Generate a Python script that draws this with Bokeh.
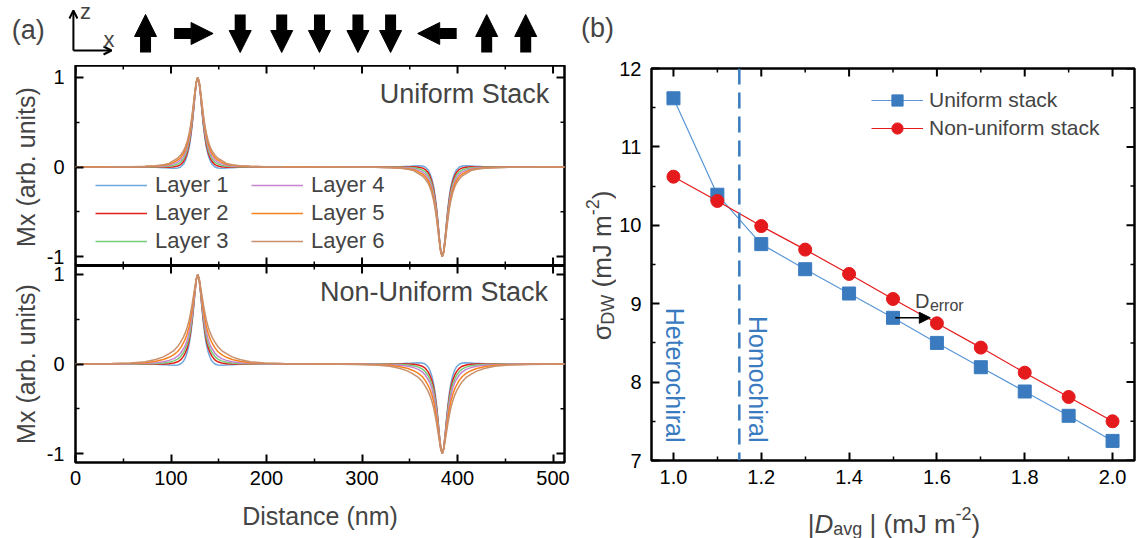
import math
from bokeh.plotting import figure
from bokeh.models import (Range1d, FixedTicker, Legend, LegendItem, Label,
                          Arrow, NormalHead, OpenHead, Span, ColumnDataSource,
                          PrintfTickFormatter)
from bokeh.layouts import row, column
from bokeh.embed import file_html
from bokeh.resources import INLINE

FONT = "Liberation Sans"

# ---------------- panel (a) data ----------------
wall_centers_nm = [128, 384]
wall_signs = [1, -1]
wall_offset_nm = [0, 1.5, 3, 4.5, 6, 7.5, 9, 11, 13, 15, 18, 21, 25, 30, 36, 44, 55, 70, 90, 128]

uniform_L1 = [1.00, 0.94, 0.79, 0.61, 0.45, 0.32, 0.22, 0.13, 0.07, 0.03, 0.00, -0.012, -0.015, -0.012, -0.007, -0.003, -0.001, 0, 0, 0]
uniform_L2 = [1.00, 0.943, 0.80, 0.63, 0.475, 0.35, 0.25, 0.16, 0.10, 0.06, 0.026, 0.01, 0.003, -0.002, -0.001, 0, 0, 0, 0, 0]
uniform_L3 = [1.00, 0.946, 0.81, 0.65, 0.50, 0.38, 0.283, 0.193, 0.132, 0.09, 0.052, 0.033, 0.02, 0.009, 0.006, 0.004, 0.003, 0.002, 0.001, 0]
uniform_L4 = [1.00, 0.95, 0.823, 0.67, 0.526, 0.408, 0.314, 0.225, 0.163, 0.119, 0.079, 0.055, 0.038, 0.019, 0.012, 0.008, 0.005, 0.002, 0.001, 0]
uniform_L5 = [1.00, 0.953, 0.834, 0.688, 0.551, 0.437, 0.346, 0.256, 0.194, 0.149, 0.105, 0.078, 0.055, 0.030, 0.019, 0.011, 0.006, 0.003, 0.002, 0]
uniform_L6 = [1.00, 0.956, 0.845, 0.708, 0.576, 0.466, 0.377, 0.288, 0.225, 0.179, 0.131, 0.10, 0.073, 0.04, 0.025, 0.015, 0.008, 0.004, 0.002, 0]

nonuni_L1 = [1.00, 0.94, 0.79, 0.61, 0.45, 0.32, 0.22, 0.13, 0.07, 0.03, 0.00, -0.012, -0.015, -0.012, -0.007, -0.003, -0.001, 0, 0, 0]
nonuni_L2 = [1.00, 0.94, 0.80, 0.63, 0.48, 0.36, 0.265, 0.18, 0.125, 0.085, 0.045, 0.025, 0.012, 0.004, 0.001, 0, 0, 0, 0, 0]
nonuni_L3 = [1.00, 0.945, 0.81, 0.65, 0.51, 0.395, 0.305, 0.225, 0.17, 0.125, 0.083, 0.055, 0.035, 0.02, 0.011, 0.006, 0.003, 0.001, 0, 0]
nonuni_L4 = [1.00, 0.95, 0.82, 0.68, 0.55, 0.44, 0.355, 0.27, 0.21, 0.17, 0.12, 0.088, 0.06, 0.04, 0.025, 0.014, 0.007, 0.003, 0.001, 0]
nonuni_L5 = [1.00, 0.95, 0.84, 0.72, 0.60, 0.50, 0.42, 0.34, 0.28, 0.235, 0.18, 0.14, 0.105, 0.075, 0.05, 0.03, 0.015, 0.007, 0.003, 0]
nonuni_L6 = [1.00, 0.955, 0.86, 0.76, 0.66, 0.57, 0.49, 0.41, 0.35, 0.30, 0.245, 0.195, 0.15, 0.115, 0.08, 0.05, 0.025, 0.012, 0.005, 0]

layer_names = ["Layer 1", "Layer 2", "Layer 3", "Layer 4", "Layer 5", "Layer 6"]
layer_colors = ["#6fa8dc", "#e0201c", "#77cc77", "#c584d0", "#f5821f", "#c8906c"]

a_x_ticks = [0, 100, 200, 300, 400, 500]
a_x_minor = [50, 150, 250, 350, 450]
a_y_ticks = [-1, 0, 1]
a_y_minor = [-0.5, 0.5]
a_y_labels = ["-1", "0", "1"]

spin_x_nm = [76, 126, 174.5, 217.7, 257, 297, 331, 379.5, 431, 471.6]
spin_dir = ["up", "right", "down", "down", "down", "down", "down", "left", "up", "up"]

# ---------------- panel (b) data ----------------
d_avg = [1.0, 1.1, 1.2, 1.3, 1.4, 1.5, 1.6, 1.7, 1.8, 1.9, 2.0]
sigma_uniform = [11.62, 10.39, 9.76, 9.44, 9.13, 8.82, 8.50, 8.19, 7.88, 7.57, 7.25]
sigma_nonuniform = [10.62, 10.31, 9.99, 9.69, 9.38, 9.06, 8.75, 8.44, 8.12, 7.81, 7.50]
boundary_d = 1.15
b_x_ticks = [1.0, 1.2, 1.4, 1.6, 1.8, 2.0]
b_x_minor = [1.1, 1.3, 1.5, 1.7, 1.9]
b_y_ticks = [7, 8, 9, 10, 11, 12]
b_y_minor = [7.5, 8.5, 9.5, 10.5, 11.5]

BLUE = "#3a7bbf"
BLUE_LINE = "#5a97d6"
RED = "#e41a1c"

# ---------------- helpers ----------------
def full_profile(half):
    xs, ys = [], []
    for c, s in zip(wall_centers_nm, wall_signs):
        for d, v in zip(reversed(wall_offset_nm), reversed(half)):
            xs.append(c - d)
            ys.append(s * v)
        for d, v in zip(wall_offset_nm[1:], half[1:]):
            xs.append(c + d)
            ys.append(s * v)
    return xs, ys


def style_axis(ax, ticker, size="20px", standoff=8):
    ax.ticker = ticker
    ax.axis_line_color = None
    ax.major_tick_in = 8
    ax.major_tick_out = 0
    ax.minor_tick_in = 4
    ax.minor_tick_out = 0
    ax.major_tick_line_width = 2
    ax.minor_tick_line_width = 1.5
    ax.major_tick_line_color = "black"
    ax.minor_tick_line_color = "black"
    ax.major_label_text_font = FONT
    ax.major_label_text_color = "black"
    ax.major_label_text_font_size = size
    ax.major_label_standoff = standoff


def hticks(p, xs, yv, size, lw):
    # vertical tick marks on a horizontal edge; the frame clips the outer half
    p.scatter(xs, [yv] * len(xs), marker="dash", angle=math.pi / 2, size=size,
              line_width=lw, line_color="black")


def vticks(p, ys, xv, size, lw):
    p.scatter([xv] * len(ys), ys, marker="dash", size=size, line_width=lw, line_color="black")


def base_fig(**kw):
    p = figure(output_backend="svg", toolbar_location=None, **kw)
    p.grid.visible = False
    p.outline_line_color = "black"
    p.outline_line_width = 2.5
    p.background_fill_color = "white"
    p.border_fill_color = "white"
    return p


def blank_fig(w, h, xr, yr, **kw):
    opts = dict(min_border_left=0, min_border_right=0, min_border_top=0, min_border_bottom=0)
    opts.update(kw)
    p = figure(width=w, height=h, x_range=xr, y_range=yr, output_backend="svg",
               toolbar_location=None, x_axis_location=None, y_axis_location=None, **opts)
    p.grid.visible = False
    p.outline_line_color = None
    p.background_fill_color = "white"
    p.border_fill_color = "white"
    return p

ARIAL_W = {' ': 278, '(': 333, ')': 333, '|': 260, '-': 333, '2': 556, 'm': 833,
           'J': 500, 'D': 722, 'W': 944, 'a': 556, 'v': 500, 'g': 556, 'σ': 600}

def tw(s, size):
    return sum(ARIAL_W[c] for c in s) * size / 1000.0

# ---------------- header strip of (a) (page y 0..65), x in nm ----------------
NM_PX = 0.961
header = blank_fig(580, 65, Range1d(-72 / NM_PX, (580 - 72) / NM_PX), Range1d(65, 0))
ax0, ay0, ax1, ay1 = [], [], [], []
HALF_H = 20.3
for x, d in zip(spin_x_nm, spin_dir):
    if d == "up":
        ax0.append(x); ay0.append(52); ax1.append(x); ay1.append(14)
    elif d == "down":
        ax0.append(x); ay0.append(14); ax1.append(x); ay1.append(52)
    elif d == "right":
        ax0.append(x - HALF_H); ay0.append(33); ax1.append(x + HALF_H); ay1.append(33)
    else:
        ax0.append(x + HALF_H); ay0.append(33); ax1.append(x - HALF_H); ay1.append(33)
spin_src = ColumnDataSource(dict(x0=ax0, y0=ay0, x1=ax1, y1=ay1))
header.add_layout(Arrow(x_start="x0", y_start="y0", x_end="x1", y_end="y1", source=spin_src,
                        line_width=11, line_color="black",
                        end=NormalHead(size=22, fill_color="black", line_color="black", line_width=1)))
header.add_layout(Arrow(x_start=0.94, y_start=50, x_end=0.94, y_end=10, line_width=2,
                        end=OpenHead(size=8, line_width=2)))
header.add_layout(Arrow(x_start=0.94, y_start=50, x_end=40.6, y_end=50, line_width=2,
                        end=OpenHead(size=8, line_width=2)))
header.add_layout(Label(x=13.5, y=11, text="z", text_font=FONT, text_font_size="22px",
                        text_align="center", text_baseline="middle"))
header.add_layout(Label(x=38, y=38.5, text="x", text_font=FONT, text_font_size="22px",
                        text_align="center", text_baseline="middle"))
header.add_layout(Label(x=(27.7 - 72) / NM_PX, y=29, text="(a)", text_font=FONT,
                        text_font_size="27px", text_align="center", text_baseline="middle"))

# ---------------- panel (a): two stacked panels sharing one frame ----------------
UNIT = 2.2 / 197.0            # data units per pixel (same for both panels)
BOT_LO, BOT_HI = -1.1, 1.1    # lower panel range
TOP_SHIFT = BOT_HI - BOT_LO   # upper panel's -1.1 sits on the divider
MAIN_HI = BOT_LO + 397 * UNIT
top_rng = Range1d(BOT_LO - TOP_SHIFT, MAIN_HI - TOP_SHIFT)

pa = base_fig(width=537, height=473, x_range=Range1d(0, 512), y_range=Range1d(BOT_LO, MAIN_HI),
              min_border_left=29, min_border_right=16, min_border_top=0, min_border_bottom=76)
pa.extra_y_ranges = {"top": top_rng}

left_ticks = a_y_ticks + [t + TOP_SHIFT for t in a_y_ticks]
left_minor = a_y_minor + [t + TOP_SHIFT for t in a_y_minor]
yax = pa.yaxis[0]
style_axis(yax, FixedTicker(ticks=left_ticks, minor_ticks=left_minor), standoff=11)
yax.major_label_overrides = dict(zip(left_ticks, a_y_labels + a_y_labels))
xax = pa.xaxis[0]
style_axis(xax, FixedTicker(ticks=a_x_ticks, minor_ticks=a_x_minor), standoff=8)
xax.axis_label = "Distance (nm)"
xax.axis_label_text_font = FONT
xax.axis_label_text_font_size = "25px"
xax.axis_label_text_font_style = "normal"
xax.axis_label_standoff = 14

pa.add_layout(Span(location=BOT_HI, dimension="width", line_color="black", line_width=3))
hticks(pa, a_x_ticks, MAIN_HI, 16, 2)
hticks(pa, a_x_minor, MAIN_HI, 8, 1.5)
hticks(pa, a_x_ticks, BOT_HI, 16, 2)
hticks(pa, a_x_minor, BOT_HI, 8, 1.5)
vticks(pa, left_ticks, 512, 16, 2)
vticks(pa, left_minor, 512, 8, 1.5)

top_curves = [uniform_L1, uniform_L2, uniform_L3, uniform_L4, uniform_L5, uniform_L6]
bot_curves = [nonuni_L1, nonuni_L2, nonuni_L3, nonuni_L4, nonuni_L5, nonuni_L6]
top_rends = []
for half, col in zip(top_curves, layer_colors):
    xs, ys = full_profile(half)
    top_rends.append(pa.line(xs, ys, line_color=col, line_width=1.5, y_range_name="top"))
for half, col in zip(bot_curves, layer_colors):
    xs, ys = full_profile(half)
    pa.line(xs, ys, line_color=col, line_width=1.5)

pa.add_layout(Label(x=496, y=0.82, y_range_name="top", text="Uniform Stack", text_font=FONT,
                    text_font_size="27px", text_align="right", text_baseline="middle"))
pa.add_layout(Label(x=494.8, y=0.80, text="Non-Uniform Stack", text_font=FONT,
                    text_font_size="27px", text_align="right", text_baseline="middle"))
for start, xloc in ((0, 20), (3, 176)):
    items = [LegendItem(label=layer_names[i], renderers=[top_rends[i]]) for i in range(start, start + 3)]
    pa.add_layout(Legend(items=items, location=(xloc, 207), orientation="vertical",
                         glyph_width=52, glyph_height=28, label_height=28, spacing=0,
                         label_standoff=8, padding=0, margin=0,
                         label_text_font=FONT, label_text_font_size="22px",
                         border_line_color=None, background_fill_alpha=0))

ya = blank_fig(43, 473, Range1d(0, 43), Range1d(BOT_LO, MAIN_HI), min_border_bottom=76)
ya.extra_y_ranges = {"top": Range1d(top_rng.start, top_rng.end)}
ya.add_layout(Label(x=25, y=0, y_range_name="top", text="Mx (arb. units)", angle=math.pi / 2,
                    text_font=FONT, text_font_size="25px", text_align="center",
                    text_baseline="middle"))
ya.add_layout(Label(x=25, y=0, text="Mx (arb. units)", angle=math.pi / 2,
                    text_font=FONT, text_font_size="25px", text_align="center",
                    text_baseline="middle"))

# ---------------- panel (b) ----------------
pb = base_fig(width=522, height=500, x_range=Range1d(0.95, 2.05), y_range=Range1d(7, 12),
              min_border_left=34, min_border_right=4, min_border_top=68, min_border_bottom=40)
style_axis(pb.xaxis[0], FixedTicker(ticks=b_x_ticks, minor_ticks=b_x_minor), standoff=9)
pb.xaxis[0].formatter = PrintfTickFormatter(format="%.1f")
style_axis(pb.yaxis[0], FixedTicker(ticks=b_y_ticks, minor_ticks=b_y_minor), standoff=10)
hticks(pb, b_x_ticks, 12, 16, 2)
hticks(pb, b_x_minor, 12, 8, 1.5)
vticks(pb, b_y_ticks, 2.05, 16, 2)
vticks(pb, b_y_minor, 2.05, 8, 1.5)

pb.add_layout(Span(location=boundary_d, dimension="height", line_color=BLUE,
                   line_width=2.5, line_dash="16 8"))

l1 = pb.line(d_avg, sigma_uniform, line_color=BLUE_LINE, line_width=1.2)
s1 = pb.scatter(d_avg, sigma_uniform, marker="square", size=13, fill_color=BLUE, line_color=BLUE)
l2 = pb.line(d_avg, sigma_nonuniform, line_color=RED, line_width=1.2)
s2 = pb.scatter(d_avg, sigma_nonuniform, marker="circle", size=13, fill_color=RED, line_color=RED)

pb.add_layout(Legend(items=[LegendItem(label="Uniform stack", renderers=[l1, s1]),
                            LegendItem(label="Non-uniform stack", renderers=[l2, s2])],
                     location=(220, 318), glyph_width=52, glyph_height=28, label_height=28,
                     spacing=0, label_standoff=6, padding=0, margin=0, label_text_font=FONT,
                     label_text_font_size="21px", border_line_color=None,
                     background_fill_alpha=0))

pb.add_layout(Label(x=1.003, y=7.23, text="Heterochiral", angle=-math.pi / 2, text_font=FONT,
                    text_font_size="25px", text_color=BLUE, text_align="right",
                    text_baseline="middle"))
pb.add_layout(Label(x=1.193, y=7.23, text="Homochiral", angle=-math.pi / 2, text_font=FONT,
                    text_font_size="25px", text_color=BLUE, text_align="right",
                    text_baseline="middle"))

pb.add_layout(Arrow(x_start=1.505, y_start=8.82, x_end=1.585, y_end=8.82, line_width=1.5,
                    line_color="black",
                    end=NormalHead(size=11, fill_color="black", line_color="black")))
pb.add_layout(Label(x=1.55, y=9.04, text="D", text_font=FONT, text_font_size="20px",
                    text_baseline="alphabetic", text_align="left"))
pb.add_layout(Label(x=1.584, y=8.976, text="error", text_font=FONT, text_font_size="16px",
                    text_baseline="alphabetic", text_align="left"))

MAIN, SMALL = 26, 18

# strip left of (b): page x 580..616, full height; holds "(b)" and the y title
ystrip = blank_fig(36, 538, Range1d(0, 36), Range1d(0, 538))
ystrip.add_layout(Label(x=17, y=538 - 27, text="(b)", text_font=FONT, text_font_size="27px",
                        text_align="center", text_baseline="middle"))
yparts = [("σ", MAIN, 0), ("DW", SMALL, 6), (" (mJ m", MAIN, 0), ("-2", SMALL, -9), (")", MAIN, 0)]
total = sum(tw(t, s) for t, s, _ in yparts)
cy = (538 - 265) - total / 2
for t, s, dx in yparts:
    lead = tw(t[: len(t) - len(t.lstrip(" "))], s)
    ystrip.add_layout(Label(x=21 + dx, y=cy + lead, text=t.lstrip(" "), angle=math.pi / 2,
                            text_font=FONT, text_font_size=f"{s}px", text_align="left",
                            text_baseline="alphabetic"))
    cy += tw(t, s)

# x-title strip of (b): page y 500..538, same horizontal frame as pb
xstrip = blank_fig(522, 38, Range1d(0, 484), Range1d(0, 38), min_border_left=34, min_border_right=4)
xparts = [("|", MAIN, "normal", 0), ("D", MAIN, "italic", 0), ("avg", SMALL, "normal", -5),
          (" | (mJ m", MAIN, "normal", 0), ("-2", SMALL, "normal", 10), (")", MAIN, "normal", 0)]
total = sum(tw(t, s) for t, s, _, _ in xparts)
cx = 243 - total / 2
for t, s, st, dy in xparts:
    lead = tw(t[: len(t) - len(t.lstrip(" "))], s)
    xstrip.add_layout(Label(x=cx + lead, y=15 + dy, text=t.lstrip(" "), text_font=FONT,
                            text_font_size=f"{s}px", text_font_style=st, text_align="left",
                            text_baseline="alphabetic"))
    cx += tw(t, s)

layout = row(column(header, row(column(ya), column(pa), spacing=0), spacing=0),
             column(ystrip),
             column(pb, xstrip, spacing=0),
             spacing=0)
open("out.html", "w").write(file_html(layout, INLINE))
